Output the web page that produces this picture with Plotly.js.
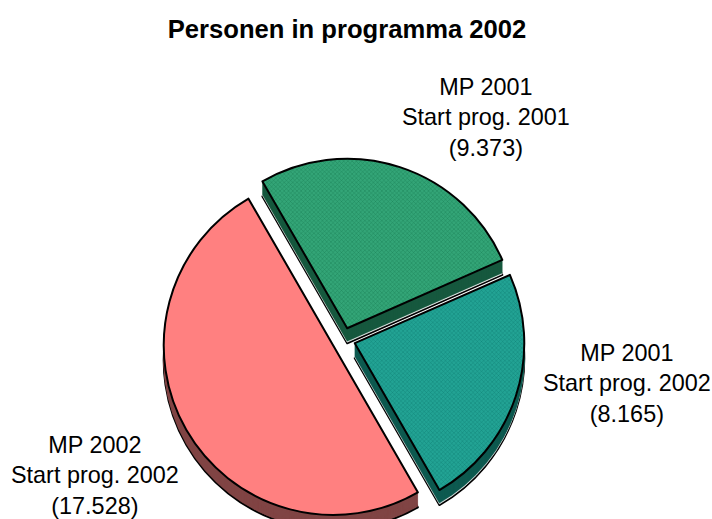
<!DOCTYPE html>
<html>
<head>
<meta charset="utf-8">
<script src="https://cdn.plot.ly/plotly-3.0.1.min.js"></script>
<style>html,body{margin:0;padding:0;background:#fff;overflow:hidden;width:712px;height:519px}</style>
</head>
<body>
<div id="chart" style="width:712px;height:519px;overflow:hidden"></div>
<script>
const categories = ["MP 2001<br>Start prog. 2001<br>(9.373)", "MP 2001<br>Start prog. 2002<br>(8.165)", "MP 2002<br>Start prog. 2002<br>(17.528)"];
const values = [9373, 8165, 17528];
const faceColors = ["#33a577", "#22a394", "#ff8080"];
const patternColors = ["#1a8055", "#0f8074", "#ff8080"];
const wallColors = ["#17593f", "#0e5a50", "#804545"];
const labelX = [485.5, 627, 95];
const labelY = [117, 383, 475];
const pulls = [0.07, 0.07, 0.07];
const depthSteps = [15,14,13,12,11,10,9,8,7,6,5,4,3,2,1];

const W = 712, H = 580, cx = 343.5, cy = 339.5, R = 169.5, half = R * 1.07;
function domainAt(off) {
  return {
    x: [(cx - half) / W, (cx + half) / W],
    y: [1 - (cy + off + half) / H, 1 - (cy + off - half) / H]
  };
}
function pieTrace(off, colors, lineColor, lineWidth, pattern) {
  return {
    type: "pie", values: values, labels: categories, sort: false,
    direction: "clockwise", rotation: -30, pull: pulls, textinfo: "none",
    hoverinfo: "skip", showlegend: false, domain: domainAt(off),
    marker: Object.assign({colors: colors, line: {color: lineColor, width: lineWidth}}, pattern ? {pattern: pattern} : {})
  };
}
const traces = [];
depthSteps.forEach((d, i) => {
  const bottom = i === 0;
  const c = i === 1 ? ["#ffffff", "#ffffff", wallColors[2]] : wallColors;
  traces.push(pieTrace(d, c, bottom ? "#000" : c.map(x => x), bottom ? 2 : 0.5));
});
traces.push(pieTrace(0, faceColors, "#000", 2, {
  shape: ["x", "x", ""], size: 3, solidity: 0.25, fgcolor: patternColors, bgcolor: faceColors, fillmode: "replace"
}));

const layout = {
  width: W, height: H,
  margin: {l: 0, r: 0, t: 0, b: 0},
  paper_bgcolor: "#fff",
  font: {family: "Liberation Sans, Arial, sans-serif", color: "#000"},
  title: {text: "<b>Personen in programma 2002</b>", font: {size: 25.6, color: "#000"},
          x: 347 / W, xanchor: "center", y: 1 - 29 / H, yanchor: "middle"},
  annotations: categories.map((t, i) => ({
    text: t, xref: "paper", yref: "paper", x: labelX[i] / W, y: 1 - labelY[i] / H,
    xanchor: "center", yanchor: "middle", showarrow: false, align: "center",
    font: {size: 23.4, color: "#000"}
  }))
};
Plotly.newPlot("chart", traces, layout, {displayModeBar: false, responsive: false});
</script>
</body>
</html>
